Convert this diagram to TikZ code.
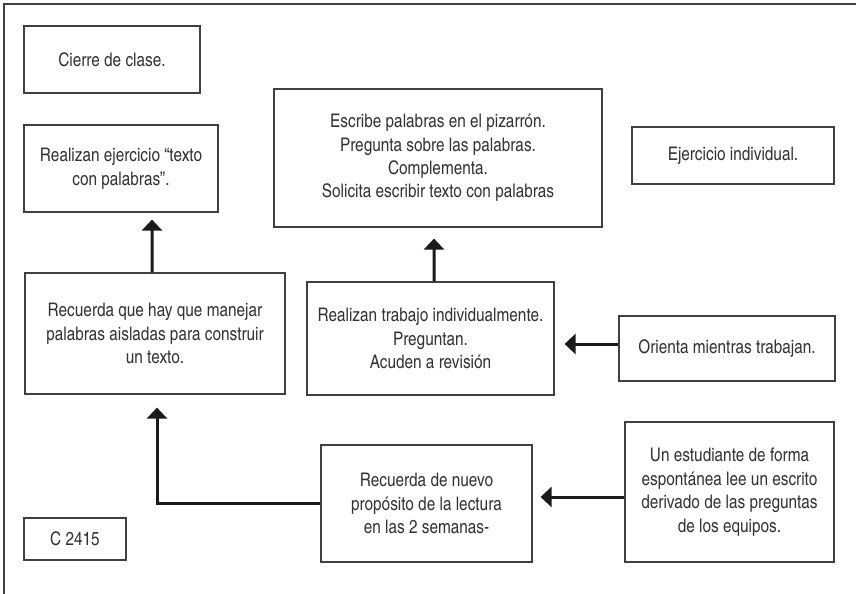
\documentclass[tikz,border=0pt]{standalone}
\usepackage{fontspec}
\setmainfont{texgyreheroscn-regular.otf}
\usetikzlibrary{arrows.meta}
\definecolor{txt}{HTML}{333333}
\definecolor{boxline}{HTML}{404040}
\definecolor{arrline}{HTML}{1A1A1A}
\tikzset{
  stepbox/.style={draw=boxline, line width=1.2bp, inner sep=0pt, align=center,
    text=txt, font=\fontsize{18.8}{23.5}\selectfont},
  arr/.style={draw=arrline, line width=3bp,
    -{Triangle[width=20bp,length=11bp]}}
}
\begin{document}
\begin{tikzpicture}[x=1bp,y=-1bp]
\useasboundingbox (0,0) rectangle (856,594);
% frame
\draw[boxline, line width=1.2bp] (4,594) -- (4,4) -- (856,4);
% nodes
\node[stepbox, minimum width=176bp, minimum height=67bp] (cierre) at (112,59.5) {Cierre de clase.};
\node[stepbox, minimum width=194bp, minimum height=87bp] (ejer) at (121,168.5) {Realizan ejercicio “texto\\con palabras”.};
\node[stepbox, minimum width=328bp, minimum height=138bp] (escribe) at (438,158) {Escribe palabras en el pizarrón.\\Pregunta sobre las palabras.\\Complementa.\\Solicita escribir texto con palabras};
\node[stepbox, minimum width=202bp, minimum height=57bp] (indiv) at (733,155.5) {Ejercicio individual.};
\node[stepbox, minimum width=260bp, minimum height=121bp] (recuerda) at (155,333.5) {Recuerda que hay que manejar\\palabras aisladas para construir\\un texto.};
\node[stepbox, minimum width=247bp, minimum height=113bp] (trabajo) at (430.5,338.5) {Realizan trabajo individualmente.\\Preguntan.\\Acuden a revisión};
\node[stepbox, minimum width=216bp, minimum height=65bp] (orienta) at (727,348.5) {Orienta mientras trabajan.};
\node[stepbox, minimum width=211bp, minimum height=117bp] (nuevo) at (426.5,503.5) {Recuerda de nuevo\\propósito de la lectura\\en las 2 semanas-};
\node[stepbox, minimum width=209bp, minimum height=140bp] (estudiante) at (729.5,492) {Un estudiante de forma\\espontánea lee un escrito\\derivado de las preguntas\\de los equipos.};
\node[stepbox, minimum width=102bp, minimum height=42bp] (c2415) at (75,539) {C 2415};
% connectors
\draw[arr, shorten >=11bp] ([xshift=3.5bp]trabajo.north) -- ([xshift=-4bp]escribe.south);
\draw[arr, shorten >=10bp] ([yshift=4.5bp]orienta.west) -- ([yshift=4.5bp]orienta.west -| trabajo.east);
\draw[arr, shorten >=7bp] ([xshift=-3bp]recuerda.north) -- ([xshift=31bp]ejer.south);
\draw[arr, shorten >=13bp] (nuevo.west) -| ([xshift=2bp]recuerda.south);
\draw[arr, shorten >=8bp] ([yshift=-5bp]estudiante.west) -- ([yshift=-5bp]estudiante.west -| nuevo.east);
\end{tikzpicture}
\end{document}
